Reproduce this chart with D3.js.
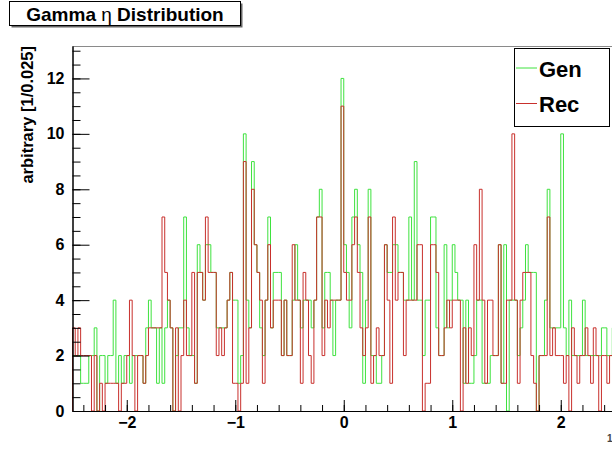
<!DOCTYPE html>
<html>
<head>
<meta charset="utf-8">
<script src="https://cdn.jsdelivr.net/npm/d3@7"></script>
<style>
  body { margin: 0; background: #fff; }
  svg { display: block; }
  text { font-family: "Liberation Sans", Arial, Helvetica, sans-serif; font-weight: bold; }
</style>
</head>
<body>
<svg id="chart"></svg>
<script>
// histogram binning: 200 bins of 0.025 from -2.5 to 2.5
const etaLow = -2.5
const etaHigh = 2.5
const binWidth = 0.025

// counts per bin
const genCounts = [
  2,2,2,1,1,1,2,2,3,0, 2,2,1,2,2,4,1,2,1,2, 2,1,2,2,2,2,1,3,4,3, 3,1,3,
  1,3,4,3,0,2,3,3,7,3, 2,2,1,6,5,4,6,6,5,5, 3,3,3,3,4,5,4,4,1,2, 10,4,3,
  9,6,5,3,2,4,7,3,5,5, 5,2,4,2,2,4,6,4,3,4, 4,4,3,4,7,8,3,5,5,4, 2,4,4,
  12,
  6,5,3,7,8,6,5,1,4,8, 2,2,1,1,2,6,5,5,6,6, 5,5,4,4,7,4,9,4,4,2, 4,4,7,
  7,3,2,2,6,3,4,6,5,4, 4,1,4,1,1,2,4,4,1,1, 1,2,2,2,6,1,6,0,4,4, 4,2,3,
  4,6,5,5,5,0,2,2,4,8, 3,3,3,3,10,3,2,4,2,2, 2,2,4,2,2,2,2,2,2,3, 3,2,2,3
]
const recCounts = [
  3,2,3,2,2,2,2,0,2,0, 1,0,1,1,1,1,1,0,1,1, 2,4,2,0,2,2,1,2,3,3, 3,3,3,
  7,5,4,3,0,3,0,2,4,2, 2,5,1,5,5,4,7,5,5,5, 2,3,2,3,4,5,1,1,0,1, 9,1,3,
  8,6,5,4,1,4,6,3,4,4, 4,2,4,2,2,6,4,4,1,5, 4,2,1,4,7,7,2,4,3,4, 4,4,4,
  11,
  5,4,4,6,7,5,3,2,3,7, 1,2,3,2,2,6,4,1,7,4, 5,5,2,4,4,4,4,6,6,0, 1,1,6,
  6,5,2,2,3,4,3,4,4,4, 0,3,1,3,2,6,4,8,4,1, 4,4,2,2,6,1,1,4,4,10, 4,1,4,
  5,5,5,2,1,0,2,2,2,7, 2,3,2,2,2,1,2,0,3,2, 1,2,2,3,2,1,3,2,0,2, 2,1,2,2
]

const seriesNames = ["Gen", "Rec"]
const seriesColors = ["#3fe23f", "#c8302c"]
const xTickValues = [-2, -1, 0, 1, 2]
const yTickValues = [0, 2, 4, 6, 8, 10, 12]
const yMax = 13.17
const titleText = "Gamma η Distribution"
const yTitle = "arbitrary [1/0.025]"

const width = 612, height = 453
const svg = d3.select("#chart")
    .attr("width", width)
    .attr("height", height)

svg.append("rect")
    .attr("width", width)
    .attr("height", height)
    .attr("fill", "#fff")

// scales: the frame runs a little past the right border of the window
let x = d3.scaleLinear().domain([etaLow, etaHigh]).range([72.5, 615])
let y = d3.scaleLinear().domain([0, yMax]).range([411, 46])

// top edge of the frame
svg.append("line")
    .attr("x1", x(etaLow)).attr("x2", x(etaHigh))
    .attr("y1", y(yMax) + 0.5).attr("y2", y(yMax) + 0.5)
    .attr("stroke", "#8a8a8a")

// step outline for one histogram
let line = d3.line()
    .x(d => x(d[0]))
    .y(d => y(d[1]))
    .curve(d3.curveStepAfter)

function stepPoints(counts) {
    let pts = [[etaLow, 0]]
    counts.forEach((c, i) => pts.push([etaLow + i * binWidth, c]))
    pts.push([etaLow + counts.length * binWidth, counts[counts.length - 1]])
    pts.push([etaLow + counts.length * binWidth, 0])
    return pts
}

let hists = svg.append("g");
[genCounts, recCounts].forEach((counts, k) => {
    hists.append("path")
        .datum(stepPoints(counts))
        .attr("d", line)
        .attr("fill", "none")
        .attr("stroke", seriesColors[k])
        .attr("stroke-width", 1)
})

// y axis, ticks pointing inside
let yAxis = svg.append("g").attr("transform", `translate(${x(etaLow)},0)`)
yAxis.call(d3.axisLeft(y).tickValues(d3.range(0, 13.01, 0.5)).tickSizeInner(-8).tickSizeOuter(0).tickFormat(""))
yAxis.append("g")
    .call(d3.axisLeft(y).tickValues(yTickValues).tickSizeInner(-17).tickSizeOuter(0).tickPadding(8))
yAxis.selectAll("text").attr("font-size", 16).attr("fill", "#000")
yAxis.selectAll("path,line").attr("stroke", "#000")

// x axis
let xAxis = svg.append("g").attr("transform", `translate(0,${y(0)})`)
xAxis.call(d3.axisBottom(x).tickValues(d3.range(-2.4, 2.5, 0.2)).tickSizeInner(-6).tickSizeOuter(0).tickFormat(""))
xAxis.append("g")
    .call(d3.axisBottom(x).tickValues(xTickValues).tickSizeInner(-11).tickSizeOuter(0).tickPadding(6).tickFormat(d3.format("d")))
xAxis.selectAll("text").attr("font-size", 16).attr("fill", "#000")
xAxis.selectAll("path,line").attr("stroke", "#000")

// y axis title, aligned with the top of the axis
svg.append("text")
    .attr("transform", `translate(33,${y(yMax)}) rotate(-90)`)
    .attr("text-anchor", "end")
    .attr("font-size", 16.5)
    .text(yTitle)

// title box
svg.append("rect")
    .attr("x", 11.5).attr("y", 3.5).attr("width", 231).attr("height", 24)
    .attr("fill", "#666")
svg.append("rect")
    .attr("x", 9.5).attr("y", 1.5).attr("width", 231).attr("height", 24)
    .attr("fill", "#fff").attr("stroke", "#000")
let title = svg.append("text")
    .attr("x", 125).attr("y", 21)
    .attr("text-anchor", "middle")
    .attr("font-size", 19)
let parts = titleText.split("η")
title.append("tspan").text(parts[0])
title.append("tspan").attr("font-weight", "normal").text("η")
title.append("tspan").text(parts[1])

// legend
let legend = svg.append("g")
legend.append("rect")
    .attr("x", 514.5).attr("y", 48.5).attr("width", 95).attr("height", 78)
    .attr("fill", "#fff").attr("stroke", "#000")
seriesNames.forEach((name, k) => {
    let ly = 68 + k * 35.5
    legend.append("line")
        .attr("x1", 516).attr("x2", 537)
        .attr("y1", ly).attr("y2", ly)
        .attr("stroke", seriesColors[k])
    legend.append("text")
        .attr("x", 539).attr("y", ly + 8.5)
        .attr("font-size", 22)
        .text(name)
})

// stray label at the bottom right corner
svg.append("text")
    .attr("x", 607).attr("y", 442)
    .attr("font-size", 10)
    .attr("font-weight", "normal")
    .attr("fill", "#444")
    .text("1")
</script>
</body>
</html>
